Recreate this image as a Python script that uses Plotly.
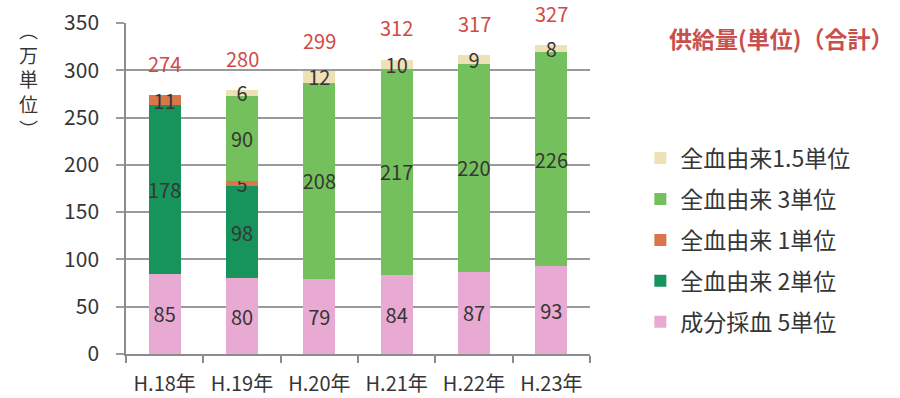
import plotly.graph_objects as go

# Fiscal years (Heisei era)
years = ["H.18年", "H.19年", "H.20年", "H.21年", "H.22年", "H.23年"]

# Supply volume by product type (10,000 units); None = not supplied that year
comp5 = [85, 80, 79, 84, 87, 93]          # 成分採血 5単位
whole2 = [178, 98, None, None, None, None]  # 全血由来 2単位
whole1 = [11, 5, None, None, None, None]    # 全血由来 1単位
whole3 = [None, 90, 208, 217, 220, 226]   # 全血由来 3単位
whole15 = [None, 6, 12, 10, 9, 8]         # 全血由来 1.5単位
totals = [274, 280, 299, 312, 317, 327]   # 合計

# Stacked bottom to top; legend lists them top to bottom
series = [
    ("成分採血 5単位", comp5, "#e8a9d2"),
    ("全血由来 2単位", whole2, "#16945c"),
    ("全血由来 1単位", whole1, "#d9764b"),
    ("全血由来 3単位", whole3, "#74c05c"),
    ("全血由来1.5単位", whole15, "#efe1b6"),
]

FONT = "Noto Sans CJK JP"
TXT = "#363636"

fig = go.Figure()
n = len(series)
for i, (name, vals, color) in enumerate(series):
    fig.add_trace(go.Bar(
        x=years, y=vals, name=name, legendgroup=f"g{i}", legendrank=n - i,
        marker=dict(color=color, line=dict(width=0)),
        text=[("" if v is None else str(v)) for v in vals],
        textposition="inside", insidetextanchor="middle", textangle=0,
        constraintext="none", cliponaxis=False,
        textfont=dict(family=FONT, size=20, color=TXT),
        hoverinfo="skip",
    ))

# Total labels above each stack
for yr, t in zip(years, totals):
    fig.add_annotation(x=yr, y=t, text=str(t), showarrow=False,
                       yshift=31, yanchor="middle",
                       font=dict(family=FONT, size=20, color="#d24a44"))

# Chart heading
fig.add_annotation(xref="paper", yref="paper", x=1.165, y=0.955,
                   xanchor="left", yanchor="middle", showarrow=False,
                   text="<b>供給量(単位)（合計）</b>",
                   font=dict(family=FONT, size=23, color="#c8504c"))

# Vertical unit caption, one glyph per line
fig.add_annotation(xref="paper", yref="paper", x=-0.21, y=0.83,
                   xanchor="center", yanchor="middle", showarrow=False,
                   text="︵<br>万<br>単<br>位<br>︶",
                   font=dict(family=FONT, size=19, color=TXT))

fig.update_layout(
    barmode="stack",
    bargap=0.586,
    width=900, height=398,
    margin=dict(l=126, r=310, t=23, b=44),
    paper_bgcolor="white", plot_bgcolor="white",
    font=dict(family=FONT, size=20, color=TXT),
    showlegend=True,
    legend=dict(
        x=1.1085, xanchor="left", y=0.344, yanchor="middle",
        traceorder="grouped", tracegroupgap=8,
        font=dict(family=FONT, size=23, color=TXT),
        bgcolor="rgba(0,0,0,0)",
    ),
    xaxis=dict(
        automargin=False,
        showline=True, linecolor="#8c8c8c", linewidth=1.5,
        ticks="outside", ticklen=7, tickcolor="#8c8c8c", tickwidth=1.5,
        tickson="boundaries", showgrid=False,
        tickfont=dict(family=FONT, size=20, color=TXT),
        ticklabelstandoff=11,
    ),
    yaxis=dict(
        automargin=False,
        range=[0, 350], tickmode="linear", tick0=0, dtick=50,
        showgrid=True, gridcolor="#9a9a9a", gridwidth=1.5,
        showline=True, linecolor="#8c8c8c", linewidth=1.5,
        ticks="outside", ticklen=8, tickcolor="#9a9a9a", tickwidth=1.5,
        tickfont=dict(family=FONT, size=21, color=TXT),
        ticklabelstandoff=13, zeroline=False,
    ),
)

fig.write_html("out.html")
